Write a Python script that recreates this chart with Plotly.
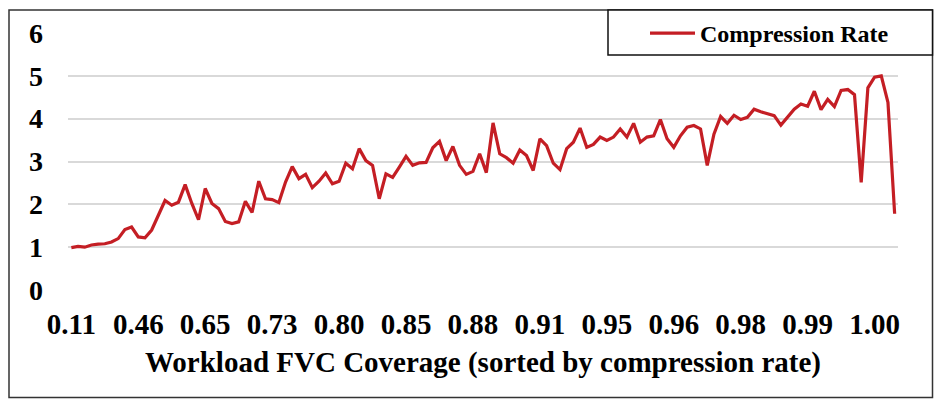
import plotly.graph_objects as go

# Compression rate per workload (sorted by compression rate)
compression_rate = [
    0.99, 1.02, 1.00, 1.05, 1.07, 1.08, 1.12, 1.20, 1.41, 1.47,
    1.24, 1.22, 1.40, 1.76, 2.09, 1.98, 2.05, 2.46, 2.02, 1.64,
    2.37, 2.02, 1.90, 1.60, 1.55, 1.59, 2.07, 1.81, 2.54, 2.13,
    2.11, 2.04, 2.52, 2.88, 2.60, 2.70, 2.39, 2.54, 2.73, 2.48,
    2.54, 2.96, 2.83, 3.30, 3.02, 2.91, 2.13, 2.71, 2.63, 2.87,
    3.12, 2.91, 2.97, 2.98, 3.32, 3.47, 3.02, 3.35, 2.91, 2.70,
    2.77, 3.18, 2.74, 3.90, 3.18, 3.09, 2.96, 3.27, 3.14, 2.79,
    3.53, 3.37, 2.96, 2.81, 3.30, 3.45, 3.78, 3.33, 3.40, 3.57,
    3.49, 3.57, 3.76, 3.57, 3.89, 3.45, 3.57, 3.60, 3.98, 3.53,
    3.33, 3.60, 3.80, 3.84, 3.76, 2.91, 3.64, 4.05, 3.89, 4.08,
    3.98, 4.03, 4.22, 4.16, 4.12, 4.07, 3.85, 4.03, 4.22, 4.34,
    4.29, 4.64, 4.21, 4.45, 4.28, 4.66, 4.68, 4.56, 2.51, 4.72,
    4.97, 5.00, 4.38, 1.78,
]
workload_index = list(range(len(compression_rate)))

# Coverage tick labels shown every 10th workload
tick_positions = list(range(0, 121, 10))
coverage_labels = ["0.11", "0.46", "0.65", "0.73", "0.80", "0.85", "0.88",
                   "0.91", "0.95", "0.96", "0.98", "0.99", "1.00"]

W, H = 940, 407
ML, MR, MT, MB = 68, 42, 32, 117
PW, PH = W - ML - MR, H - MT - MB


def px_x(p):
    return (p - ML) / PW


def px_y(p):
    return (H - MB - p) / PH


FONT = "Liberation Serif"

fig = go.Figure()
fig.add_trace(go.Scatter(
    x=workload_index, y=compression_rate, mode="lines",
    name="Compression Rate",
    line=dict(color="#C41E24", width=3.2),
))

fig.update_layout(
    width=W, height=H,
    margin=dict(l=ML, r=MR, t=MT, b=MB),
    paper_bgcolor="white", plot_bgcolor="white",
    font=dict(family=FONT, color="black", size=26, weight="bold"),
    showlegend=True,
    legend=dict(
        x=px_x(645), y=px_y(11), xanchor="left", yanchor="top",
        bgcolor="rgba(0,0,0,0)", borderwidth=0,
        font=dict(family=FONT, size=24, color="black", weight="bold"),
        itemwidth=45,
    ),
    xaxis=dict(
        range=[-0.5, len(compression_rate) - 0.5],
        tickmode="array", tickvals=tick_positions, ticktext=coverage_labels,
        showgrid=False, zeroline=False, showline=False,
        ticks="", ticklabelstandoff=14,
        tickfont=dict(family=FONT, size=29, color="black", weight="bold"),
        title=dict(text="Workload FVC Coverage (sorted by compression rate)",
                   font=dict(family=FONT, size=29, color="black", weight="bold"),
                   standoff=12),
    ),
    yaxis=dict(
        range=[0, 6], dtick=1, tick0=0,
        showgrid=True, gridcolor="#d9d9d9", gridwidth=1.5,
        zeroline=False, showline=False, ticks="",
        ticklabelstandoff=24,
        tickfont=dict(family=FONT, size=28, color="black", weight="bold"),
    ),
    shapes=[
        dict(type="rect", xref="paper", yref="paper",
             x0=px_x(9), x1=px_x(932.5), y0=px_y(398), y1=px_y(9),
             line=dict(color="#333333", width=1.5), fillcolor="rgba(0,0,0,0)",
             layer="below"),
        dict(type="rect", xref="paper", yref="paper",
             x0=px_x(608), x1=px_x(932.5), y0=px_y(54), y1=px_y(9),
             line=dict(color="#111111", width=1.5), fillcolor="white",
             layer="above"),
    ],
)

fig.write_html("out.html")
